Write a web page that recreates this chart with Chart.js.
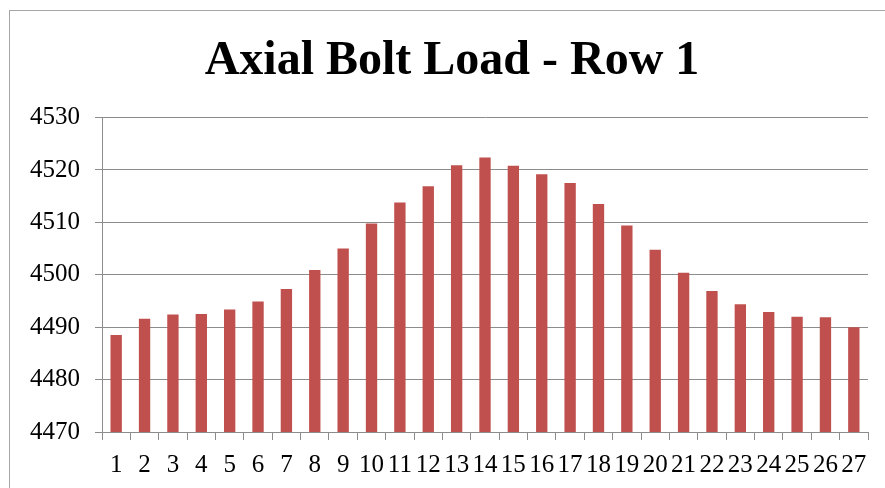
<!DOCTYPE html>
<html>
<head>
<meta charset="utf-8">
<script src="https://cdn.jsdelivr.net/npm/chart.js@4.4.0/dist/chart.umd.min.js"></script>
<style>
  html, body { margin: 0; padding: 0; background: #fff; overflow: hidden; }
  #wrap { position: relative; width: 885px; height: 488px; }
  #frame { position: absolute; left: 9px; top: 10px; width: 900px; height: 500px; border: 1px solid #a6a6a6; box-sizing: border-box; }
  canvas { position: absolute; left: 0; top: 0; }
</style>
</head>
<body>
<div id="wrap">
  <div id="frame"></div>
  <canvas id="chart" width="885" height="488"></canvas>
</div>
<script>
// ===== 데이터 =====
var BOLTS = ["1","2","3","4","5","6","7","8","9","10","11","12","13","14","15","16","17","18","19","20","21","22","23","24","25","26","27"];
var LOADS = [4488.5, 4491.6, 4492.4, 4492.5, 4493.4, 4494.9, 4497.3, 4500.9, 4505.0, 4509.8,
             4513.8, 4516.9, 4520.9, 4522.4, 4520.8, 4519.2, 4517.5, 4513.5, 4509.4, 4504.8,
             4500.4, 4496.9, 4494.4, 4492.9, 4492.0, 4491.9, 4490.0];
var Y_MIN = 4470, Y_MAX = 4530, Y_STEP = 10;

var FONT = "'Liberation Serif', 'Times New Roman', serif";
var GRID = "#8c8c8c";

// 제목을 오른쪽으로 살짝 옮김 (원본 중앙 ~452px)
var shiftTitle = {
  id: "shiftTitle",
  afterLayout: function (chart) {
    if (chart.titleBlock) chart.titleBlock.left = 36;
  }
};

new Chart(document.getElementById("chart"), {
  type: "bar",
  data: {
    labels: BOLTS,
    datasets: [{ data: LOADS, backgroundColor: "#C0504D", categoryPercentage: 1, barPercentage: 0.4 }]
  },
  plugins: [shiftTitle],
  options: {
    responsive: false,
    animation: false,
    layout: { padding: { left: 0, right: 17, top: 0, bottom: 0 } },
    plugins: {
      legend: { display: false },
      tooltip: { enabled: false },
      title: {
        display: true,
        text: "Axial Bolt Load - Row 1",
        color: "#000",
        font: { family: FONT, size: 48, weight: "bold", lineHeight: 1.2 },
        padding: { top: 33, bottom: 27 }
      }
    },
    scales: {
      x: {
        offset: true,
        grid: { offset: true, drawOnChartArea: false, color: GRID, tickLength: 8, tickColor: GRID },
        border: { color: GRID },
        ticks: { color: "#000", font: { family: FONT, size: 25 }, maxRotation: 0, autoSkip: false, padding: 10 },
        afterFit: function (s) { s.height = 56; }
      },
      y: {
        min: Y_MIN, max: Y_MAX,
        grid: { color: GRID, tickLength: 7, tickColor: GRID },
        border: { color: GRID },
        ticks: {
          stepSize: Y_STEP, color: "#000", font: { family: FONT, size: 25 }, padding: 15,
          callback: function (v) { return String(v); }
        },
        afterFit: function (s) { s.width = 102; }
      }
    }
  }
});
</script>
</body>
</html>
